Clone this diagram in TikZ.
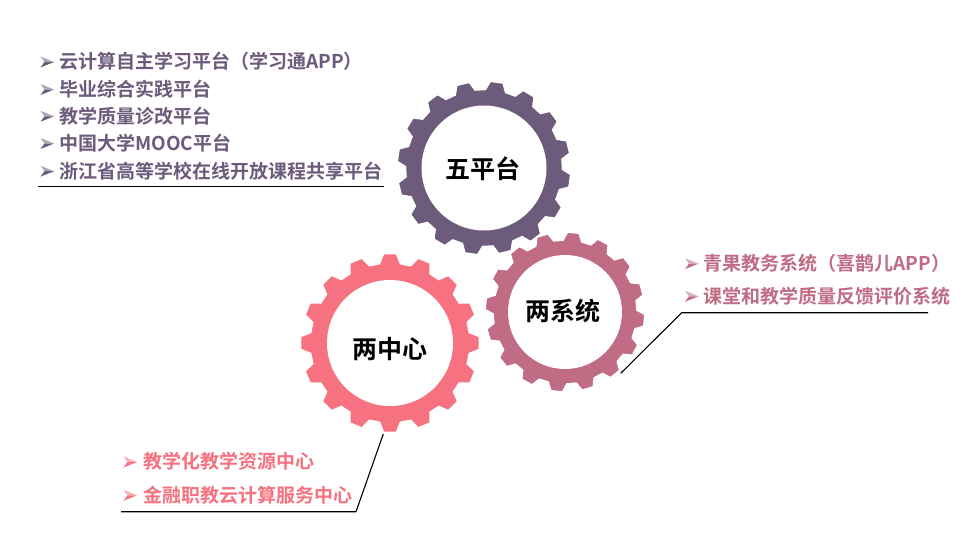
\documentclass[tikz,border=0pt]{standalone}
\usepackage{fontspec}
\newfontfamily\cjk[BoldFont={Noto Sans CJK SC Bold}]{Noto Sans CJK SC}
\definecolor{cpurple}{HTML}{6C5B7B}
\definecolor{cmauve}{HTML}{C06C84}
\definecolor{cpink}{HTML}{F67280}
\newcommand\drawgear[7]{%
  \begin{scope}[shift={(#1,#2)}]
    \fill[#7,draw=white,line width=1.5pt] ({#3-7.5}:#5pt)
      \foreach \k in {0,...,15}{ -- ({#3+22.5*\k-7.5}:#5pt) -- ({#3+22.5*\k-4.2}:#4pt)
        -- ({#3+22.5*\k+4.2}:#4pt) -- ({#3+22.5*\k+7.5}:#5pt) } -- cycle;
    \fill[white] (0,0) circle[radius=#6pt];
  \end{scope}}
% 3-D arrowhead bullet
\newcommand\bullethead[3]{%
  \begin{scope}[shift={(#1,#2)}]
    \fill[#3!55] (0,-5.5) -- (13.5,0) -- (4,0) -- cycle;
    \fill[#3] (4,0) -- (13.5,0) -- (0,5.5) -- cycle;
  \end{scope}}
\tikzset{
  gearlabel/.style={font=\cjk\bfseries\fontsize{25}{25}\selectfont, text=black, inner sep=0pt},
  item/.style={anchor=west, inner sep=0pt, font=\cjk\bfseries\fontsize{19}{19}\selectfont},
  callout/.style={draw=black, line width=1.1pt}
}
\begin{document}
\begin{tikzpicture}[x=1pt,y=-1pt]
\useasboundingbox (0,0) rectangle (978,544);
\fill[white] (0,0) rectangle (978,544);
% gears
\drawgear{484}{168}{81.5}{87}{78.5}{62.5}{cpurple}
\drawgear{390}{343}{90}{89.5}{80}{63}{cpink}
\drawgear{565}{312}{84}{80}{72}{57}{cmauve}
\node[gearlabel] (g1) at (483,169) {五平台};
\node[gearlabel] (g2) at (390,349) {两中心};
\node[gearlabel] (g3) at (563,311) {两系统};
% top-left list
\begin{scope}[every node/.style={item, text=cpurple}]
\node (t1) at (59,61.7) {云计算自主学习平台（学习通APP）};
\node (t2) at (59,89.3) {毕业综合实践平台};
\node (t3) at (59,116) {教学质量诊改平台};
\node (t4) at (59,143.3) {中国大学MOOC平台};
\node (t5) at (59,171) {浙江省高等学校在线开放课程共享平台};
\end{scope}
\foreach \yy in {62,89.5,116.3,143.5,171.2}{\bullethead{40.5}{\yy}{cpurple}}
\coordinate (a1) at (38,186.7);
\coordinate (a2) at (384,186.7);
\draw[callout] (a1) -- (a2);
% right list
\begin{scope}[every node/.style={item, text=cmauve}]
\node (r1) at (703.3,263.3) {青果教务系统（喜鹊儿APP）};
\node (r2) at (703.3,296) {课堂和教学质量反馈评价系统};
\end{scope}
\foreach \yy in {263.6,296.3}{\bullethead{685}{\yy}{cmauve}}
\coordinate (b1) at (928,312.7);
\coordinate (b2) at (681.7,312.7);
\coordinate (b3) at (620.7,373.3);
\draw[callout] (b1) -- (b2) -- (b3);
% bottom list
\begin{scope}[every node/.style={item, text=cpink}]
\node (p1) at (143.3,461.7) {教学化教学资源中心};
\node (p2) at (143.3,495) {金融职教云计算服务中心};
\end{scope}
\foreach \yy in {462,495.3}{\bullethead{123.5}{\yy}{cpink}}
\coordinate (c1) at (121,511.7);
\coordinate (c2) at (356,511.7);
\coordinate (c3) at (383.3,434);
\draw[callout] (c1) -- (c2) -- (c3);
\end{tikzpicture}
\end{document}
